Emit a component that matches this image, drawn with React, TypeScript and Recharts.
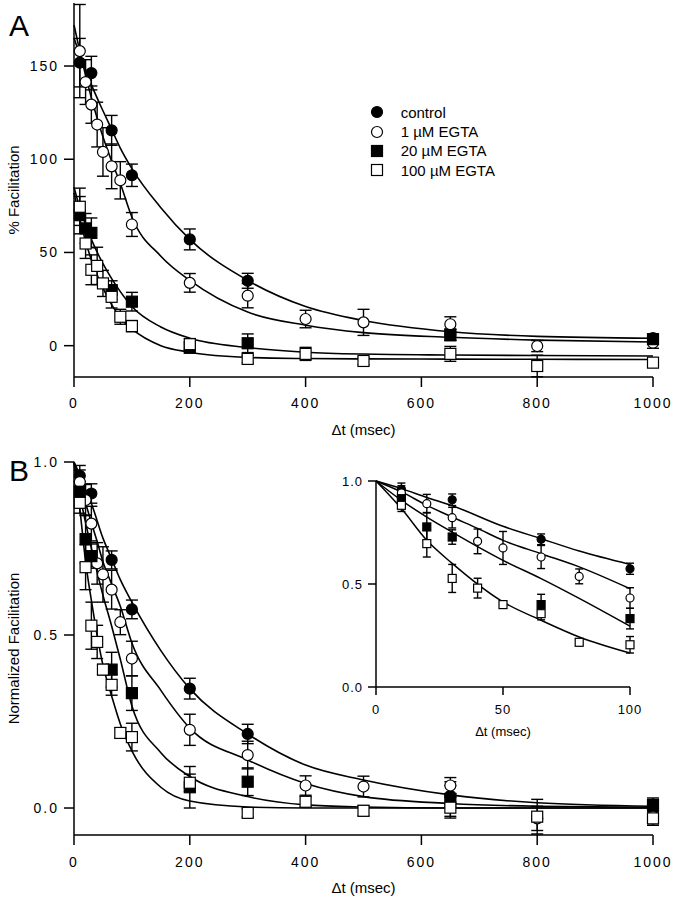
import React from "react";
import {
  ComposedChart,
  Line,
  Scatter,
  ErrorBar,
  XAxis,
  YAxis,
  Legend,
} from "recharts";

const FONT = '"Liberation Sans", Arial, Helvetica, sans-serif';

// ticks
const xTicksMain = [0, 200, 400, 600, 800, 1000];
const yTicksA = [0, 50, 100, 150];
const yTicksB = [0, 0.5, 1];
const xTicksInset = [0, 50, 100];
const yTicksInset = [0, 0.5, 1];

// panel A, % facilitation: [dt (msec), value, sem]
const aControl = [[10, 151.8, 13], [30, 146.2, 9], [65, 115.5, 8], [100, 91.4, 6], [200, 57, 5.6], [300, 34.8, 4], [650, 6, 3], [1000, 4, 2]];
const aEgta1 = [[10, 158, 25], [20, 141.4, 12], [30, 129.3, 10], [40, 118.6, 12], [50, 103.9, 13], [65, 96.2, 12], [80, 88.7, 10], [100, 65, 6.4], [200, 33.7, 5], [300, 26.8, 6.5], [400, 14.3, 4.7], [500, 12.5, 7], [650, 11.5, 4], [800, -0.2, 3], [1000, 1.6, 3]];
const aEgta20 = [[10, 70, 10], [20, 62.9, 8], [30, 60.5, 8], [65, 29.8, 5], [100, 23.6, 5], [200, -1, 3], [300, 1.3, 5], [650, 5.7, 3], [1000, 3.5, 2]];
const aEgta100 = [[10, 74.5, 10], [20, 54.8, 8], [30, 40.7, 8], [40, 42.8, 10], [50, 33.4, 7], [65, 26.2, 6], [80, 15.5, 4], [100, 10.5, 3], [200, 0.8, 3], [300, -7.1, 2], [400, -4.4, 3.5], [500, -8.2, 2], [650, -4.4, 4], [800, -10.9, 5.8], [1000, -9.1, 2]];

// panel A fitted curves: [dt, value]
const aFitControl = [[0, 165], [10, 156], [20, 148], [30, 140], [50, 126], [65, 116], [80, 106], [100, 95], [150, 74], [200, 57], [300, 35], [400, 21], [500, 13.5], [650, 7.5], [800, 5], [1000, 4]];
const aFitEgta1 = [[0, 172], [10, 158], [20, 145], [30, 133], [40, 122], [50, 112], [65, 99], [80, 87], [100, 69], [150, 48], [200, 35], [300, 18], [400, 11], [500, 7], [650, 4.5], [800, 3], [1000, 2]];
const aFitEgta20 = [[0, 85], [10, 74], [20, 65], [30, 57], [50, 44], [65, 36], [80, 29], [100, 21], [150, 10], [200, 4], [300, -1], [400, -3.5], [500, -4.5], [650, -5], [800, -5.3], [1000, -5.5]];
const aFitEgta100 = [[0, 82], [10, 68], [20, 56], [30, 46], [50, 31], [65, 22], [80, 15], [100, 9], [150, 0], [200, -3.5], [300, -6.3], [400, -6.9], [500, -7.1], [650, -7.2], [800, -7.3], [1000, -7.4]];

// panel B, normalized facilitation: [dt, value, sem]
const bControl = [[10, 0.96, 0.03], [30, 0.909, 0.028], [65, 0.717, 0.026], [100, 0.574, 0.027], [200, 0.345, 0.03], [300, 0.214, 0.028], [650, 0.035, 0.03], [1000, 0.009, 0.015]];
const bEgta1 = [[10, 0.942, 0.035], [20, 0.89, 0.045], [30, 0.822, 0.05], [40, 0.707, 0.06], [50, 0.675, 0.08], [65, 0.631, 0.056], [80, 0.537, 0.036], [100, 0.432, 0.05], [200, 0.226, 0.045], [300, 0.153, 0.04], [400, 0.065, 0.028], [500, 0.062, 0.03], [650, 0.065, 0.023], [800, -0.03, 0.035], [1000, -0.025, 0.02]];
const bEgta20 = [[10, 0.914, 0.03], [20, 0.777, 0.07], [30, 0.728, 0.035], [65, 0.4, 0.05], [100, 0.332, 0.05], [200, 0.06, 0.06], [300, 0.076, 0.04], [650, 0.026, 0.05], [1000, 0.009, 0.02]];
const bEgta100 = [[10, 0.882, 0.03], [20, 0.696, 0.065], [30, 0.527, 0.068], [40, 0.48, 0.048], [50, 0.4, 0.015], [65, 0.356, 0.03], [80, 0.217, 0.015], [100, 0.205, 0.04], [200, 0.073, 0.025], [300, -0.014, 0.012], [400, 0.018, 0.015], [500, -0.008, 0.015], [650, 0.001, 0.03], [800, -0.025, 0.05], [1000, -0.03, 0.02]];

// panel B fitted curves (inset uses the part up to 100 msec)
const bFitControl = [[0, 1], [10, 0.963], [20, 0.92], [30, 0.88], [50, 0.78], [65, 0.72], [80, 0.66], [100, 0.595], [150, 0.455], [200, 0.345], [300, 0.214], [400, 0.124], [500, 0.081], [650, 0.038], [800, 0.015], [1000, 0.005]];
const bFitEgta1 = [[0, 1], [10, 0.947], [20, 0.882], [30, 0.825], [40, 0.77], [50, 0.712], [65, 0.647], [80, 0.583], [100, 0.477], [150, 0.34], [200, 0.231], [300, 0.139], [400, 0.071], [500, 0.033], [650, 0.013], [800, 0.005], [1000, 0.002]];
const bFitEgta20 = [[0, 1], [10, 0.906], [20, 0.825], [30, 0.752], [50, 0.615], [65, 0.526], [80, 0.43], [100, 0.295], [150, 0.16], [200, 0.091], [300, 0.033], [400, 0.009], [500, 0.003], [650, 0], [800, 0], [1000, 0]];
const bFitEgta100 = [[0, 1], [10, 0.866], [20, 0.712], [30, 0.6], [50, 0.413], [65, 0.324], [80, 0.243], [100, 0.165], [150, 0.06], [200, 0.02], [300, 0.003], [400, 0], [500, 0], [650, 0], [800, 0], [1000, 0]];

const SERIES = [
  { key: "control", label: "control", kind: "circle", filled: true },
  { key: "egta1", label: "1 \u00b5M EGTA", kind: "circle", filled: false },
  { key: "egta20", label: "20 \u00b5M EGTA", kind: "square", filled: true },
  { key: "egta100", label: "100 \u00b5M EGTA", kind: "square", filled: false },
];

const toPts = (rows: number[][]) => rows.map(([x, y, err]) => ({ x, y, err }));
const toCurve = (rows: number[][]) => rows.map(([x, y]) => ({ x, y }));

const panelA = {
  points: [aControl, aEgta1, aEgta20, aEgta100].map(toPts),
  fits: [aFitControl, aFitEgta1, aFitEgta20, aFitEgta100].map(toCurve),
};
const panelB = {
  points: [bControl, bEgta1, bEgta20, bEgta100].map(toPts),
  fits: [bFitControl, bFitEgta1, bFitEgta20, bFitEgta100].map(toCurve),
};
const upTo100 = (arr: any[]) => arr.filter((d) => d.x <= 100);
const panelInset = {
  points: panelB.points.map(upTo100),
  fits: panelB.fits.map(upTo100),
};

function Marker({ cx, cy, kind, filled, size }: any) {
  if (cx == null || cy == null) return null;
  const fill = filled ? "#000" : "#fff";
  if (kind === "circle") {
    return <circle cx={cx} cy={cy} r={size / 2} fill={fill} stroke="#000" strokeWidth={1.2} />;
  }
  return (
    <rect
      x={cx - size / 2}
      y={cy - size / 2}
      width={size}
      height={size}
      fill={fill}
      stroke="#000"
      strokeWidth={1.2}
    />
  );
}

const axisStroke = { stroke: "#000", strokeWidth: 1.5 };

function yTitle(props: any) {
  const { viewBox, value } = props;
  const cy = viewBox.y + viewBox.height / 2;
  return (
    <text
      x={19}
      y={cy}
      transform={`rotate(-90 19 ${cy})`}
      textAnchor="middle"
      fill="#000"
      fontSize={15}
      fontFamily={FONT}
    >
      {value}
    </text>
  );
}

function renderLegend() {
  return (
    <div style={{ fontFamily: FONT, fontSize: 15, color: "#000" }}>
      {SERIES.map((s) => (
        <div key={s.key} style={{ display: "flex", alignItems: "center", height: 19.3 }}>
          <svg width={18} height={18} style={{ marginRight: 14.7 }}>
            <Marker cx={9} cy={9} kind={s.kind} filled={s.filled} size={11} />
          </svg>
          <span style={{ whiteSpace: "pre" }}>{s.label}</span>
        </div>
      ))}
    </div>
  );
}

function renderSeries(panel: any, markerSize: number, capWidth: number, lineWidth: number) {
  const lines = panel.fits.map((fit: any[], i: number) => (
    <Line
      key={`fit-${SERIES[i].key}`}
      data={fit}
      dataKey="y"
      type="monotone"
      stroke="#000"
      strokeWidth={lineWidth}
      dot={false}
      activeDot={false}
      legendType="none"
      isAnimationActive={false}
    />
  ));
  const scatters = panel.points.map((pts: any[], i: number) => {
    const s = SERIES[i];
    return (
      <Scatter
        key={`pts-${s.key}`}
        name={s.label}
        data={pts}
        dataKey="y"
        isAnimationActive={false}
        shape={(p: any) => (
          <Marker cx={p.cx} cy={p.cy} kind={s.kind} filled={s.filled} size={markerSize} />
        )}
      >
        <ErrorBar
          dataKey="err"
          direction="y"
          width={capWidth}
          stroke="#000"
          strokeWidth={1.4}
          isAnimationActive={false}
        />
      </Scatter>
    );
  });
  return [...lines, ...scatters];
}

const tickStyle = { fill: "#000", fontSize: 14, fontFamily: FONT, letterSpacing: 2 };
const insetTick = { fill: "#000", fontSize: 13, fontFamily: FONT, letterSpacing: 1 };
const xTitle = { fill: "#000", fontSize: 15, fontFamily: FONT };

function PanelLetter({ text, top }: { text: string; top: number }) {
  return (
    <div
      style={{
        position: "absolute",
        left: 9,
        top,
        fontFamily: FONT,
        fontSize: 30,
        lineHeight: "30px",
        color: "#000",
      }}
    >
      {text}
    </div>
  );
}

export default function App() {
  return (
    <div
      style={{
        position: "absolute",
        left: 0,
        top: 0,
        width: 680,
        height: 900,
        background: "#fff",
        overflow: "hidden",
      }}
    >
      <PanelLetter text="A" top={11} />
      <PanelLetter text="B" top={456} />

      {/* panel A */}
      <div style={{ position: "absolute", left: 0, top: 0 }}>
        <ComposedChart width={680} height={450} margin={{ top: 3, right: 27, bottom: 0, left: 0 }}>
          <XAxis
            dataKey="x"
            type="number"
            domain={[0, 1000]}
            ticks={xTicksMain}
            height={73}
            tickSize={10}
            tickMargin={11}
            axisLine={axisStroke}
            tickLine={axisStroke}
            tick={tickStyle}
            label={{ value: "\u0394t  (msec)", position: "insideBottom", offset: 15, style: xTitle }}
          />
          <YAxis
            type="number"
            domain={[-16.8, 183.8]}
            ticks={yTicksA}
            width={74}
            tickSize={10}
            tickMargin={5}
            axisLine={axisStroke}
            tickLine={axisStroke}
            tick={tickStyle}
            label={{ value: "% Facilitation", content: yTitle }}
          />
          <Legend
            layout="vertical"
            align="center"
            verticalAlign="middle"
            wrapperStyle={{ left: 368, top: 102.6, width: 220 }}
            content={renderLegend}
          />
          {renderSeries(panelA, 11, 6, 1.6)}
        </ComposedChart>
      </div>

      {/* panel B */}
      <div style={{ position: "absolute", left: 0, top: 450 }}>
        <ComposedChart width={680} height={450} margin={{ top: 12, right: 27, bottom: 0, left: 0 }}>
          <XAxis
            dataKey="x"
            type="number"
            domain={[0, 1000]}
            ticks={xTicksMain}
            height={65}
            tickSize={10}
            tickMargin={12}
            axisLine={axisStroke}
            tickLine={axisStroke}
            tick={tickStyle}
            label={{ value: "\u0394t  (msec)", position: "insideBottom", offset: 7, style: xTitle }}
          />
          <YAxis
            type="number"
            domain={[-0.078, 1]}
            ticks={yTicksB}
            tickFormatter={(v: number) => v.toFixed(1)}
            width={74}
            tickSize={10}
            tickMargin={5}
            axisLine={axisStroke}
            tickLine={axisStroke}
            tick={tickStyle}
            label={{ value: "Normalized  Facilitation", content: yTitle }}
          />
          {renderSeries(panelB, 11, 6, 1.6)}
        </ComposedChart>
      </div>

      {/* inset: first 100 msec of panel B */}
      <div style={{ position: "absolute", left: 320, top: 470 }}>
        <ComposedChart width={340} height={280} margin={{ top: 11, right: 30, bottom: 0, left: 0 }}>
          <XAxis
            dataKey="x"
            type="number"
            domain={[0, 100]}
            ticks={xTicksInset}
            height={63}
            tickSize={8}
            tickMargin={10}
            axisLine={axisStroke}
            tickLine={axisStroke}
            tick={insetTick}
            label={{
              value: "\u0394t  (msec)",
              position: "insideBottom",
              offset: 14,
              style: { fill: "#000", fontSize: 13, fontFamily: FONT },
            }}
          />
          <YAxis
            type="number"
            domain={[0, 1]}
            ticks={yTicksInset}
            tickFormatter={(v: number) => v.toFixed(1)}
            width={56}
            tickSize={8}
            tickMargin={5}
            axisLine={axisStroke}
            tickLine={axisStroke}
            tick={insetTick}
          />
          {renderSeries(panelInset, 8, 4, 1.5)}
        </ComposedChart>
      </div>
    </div>
  );
}
